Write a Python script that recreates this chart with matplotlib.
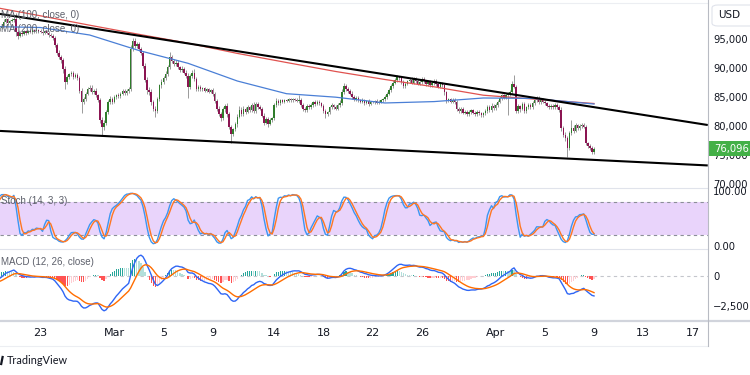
import numpy as np
import pandas as pd
import matplotlib
matplotlib.use("Agg")
import matplotlib.pyplot as plt
from matplotlib.lines import Line2D
from matplotlib.patches import Rectangle, FancyBboxPatch

# ------------------------------------------------------------------ data
# 4-hour candles, prices in thousands of USD; first candle = 2025-02-16 00:00
start_time = "2025-02-16 00:00"
first_open = 97.8
closes_by_day = [
    [97.6, 97.4, 97.2, 96.9, 96.6, 96.3],   # Feb 16
    [96.0, 96.5, 96.2, 95.7, 95.9, 95.6],   # Feb 17
    [95.4, 94.8, 94.0, 93.6, 95.0, 95.5],   # Feb 18
    [95.8, 96.0, 96.3, 96.6, 96.9, 97.3],   # Feb 19
    [98.0, 98.4, 97.8, 98.1, 98.3, 98.5],   # Feb 20
    [96.2, 95.6, 96.1, 95.9, 96.3, 96.0],   # Feb 21
    [96.4, 96.2, 96.5, 96.3, 96.6, 96.4],   # Feb 22
    [96.2, 96.0, 96.3, 96.1, 95.7, 95.5],   # Feb 23
    [95.2, 94.0, 92.6, 91.9, 91.3, 89.8],   # Feb 24
    [87.6, 88.4, 88.9, 89.1, 88.5, 88.8],   # Feb 25
    [88.2, 86.1, 84.2, 84.6, 85.6, 86.3],   # Feb 26
    [86.6, 85.9, 86.1, 85.3, 84.5, 81.0],   # Feb 27
    [79.8, 80.6, 82.4, 84.1, 84.6, 84.2],   # Feb 28
    [85.0, 85.3, 85.1, 85.6, 86.0, 85.7],   # Mar 1
    [86.0, 86.4, 93.3, 94.6, 93.8, 94.1],   # Mar 2
    [93.2, 92.6, 90.4, 88.0, 86.2, 85.8],   # Mar 3
    [84.1, 83.0, 82.6, 84.6, 87.0, 87.6],   # Mar 4
    [88.3, 89.0, 90.2, 91.9, 91.2, 90.7],   # Mar 5
    [90.9, 90.1, 89.6, 89.9, 89.2, 88.6],   # Mar 6
    [86.8, 88.6, 89.2, 88.1, 86.4, 86.8],   # Mar 7
    [86.3, 86.5, 86.1, 86.3, 85.9, 86.2],   # Mar 8
    [85.5, 84.3, 83.0, 82.1, 81.4, 82.9],   # Mar 9
    [83.4, 82.0, 79.8, 78.6, 79.4, 80.3],   # Mar 10
    [81.6, 82.8, 82.1, 83.0, 82.5, 83.2],   # Mar 11
    [82.8, 83.6, 82.6, 83.8, 83.3, 83.0],   # Mar 12
    [81.8, 80.6, 81.2, 80.4, 81.0, 81.3],   # Mar 13
    [83.6, 84.3, 84.0, 84.4, 84.2, 84.5],   # Mar 14
    [84.3, 84.6, 84.4, 84.7, 84.5, 84.3],   # Mar 15
    [84.5, 83.6, 83.0, 82.8, 83.5, 83.2],   # Mar 16
    [83.6, 84.1, 83.8, 84.2, 83.9, 83.5],   # Mar 17
    [82.6, 82.0, 82.4, 83.2, 83.6, 83.3],   # Mar 18
    [83.0, 83.6, 84.0, 85.9, 86.9, 86.4],   # Mar 19
    [86.0, 85.6, 85.0, 84.6, 84.9, 84.4],   # Mar 20
    [84.1, 84.5, 84.0, 84.3, 83.8, 84.1],   # Mar 21
    [84.1, 84.3, 84.0, 84.2, 84.4, 84.6],   # Mar 22
    [85.0, 85.6, 86.2, 86.9, 87.5, 87.9],   # Mar 23
    [88.4, 88.2, 87.6, 86.9, 87.3, 87.7],   # Mar 24
    [88.0, 87.5, 88.2, 87.8, 87.3, 87.6],   # Mar 25
    [88.1, 87.7, 87.2, 87.6, 87.0, 87.4],   # Mar 26
    [87.8, 87.2, 86.8, 87.3, 87.0, 85.8],   # Mar 27
    [84.4, 84.6, 84.2, 84.5, 84.1, 83.0],   # Mar 28
    [82.6, 82.9, 82.3, 82.5, 82.1, 82.4],   # Mar 29
    [82.7, 82.3, 82.0, 82.5, 82.2, 81.9],   # Mar 30
    [82.2, 82.6, 83.3, 82.7, 83.5, 83.1],   # Mar 31
    [83.6, 84.2, 84.8, 85.3, 84.9, 85.4],   # Apr 1
    [85.5, 85.9, 87.3, 86.8, 82.6, 83.4],   # Apr 2
    [83.0, 83.8, 82.6, 83.2, 83.6, 83.3],   # Apr 3
    [83.9, 84.4, 84.8, 84.1, 84.5, 84.2],   # Apr 4
    [83.9, 83.5, 83.2, 83.5, 83.3, 83.6],   # Apr 5
    [83.3, 82.8, 79.6, 78.5, 77.9, 76.2],   # Apr 6
    [78.8, 79.7, 79.2, 80.1, 79.6, 80.0],   # Apr 7
    [80.2, 79.9, 77.0, 76.6, 76.2, 75.6],   # Apr 8
    [76.096],                               # Apr 9
]
up_wick_by_day = [
    [.3, .2, .3, .2, .3, .2], [.3, .4, .2, .3, .2, .3], [.2, .3, .4, .3, .3, .2],
    [.2, .3, .2, .3, .2, .3], [.4, .3, .3, .2, .3, .3], [1.0, .4, .3, .3, .3, .2],
    [.2, .3, .2, .2, .3, .2], [.3, .2, .3, .2, .2, .3], [.3, .4, .3, .5, .3, .4],
    [.5, .4, .3, .3, .4, .3], [.3, .4, .5, .4, .3, .4], [.4, .5, .3, .4, .3, .4],
    [.6, .5, .4, .3, .5, .4], [.3, .3, .4, .2, .3, .3], [.3, .4, .6, .6, .5, .3],
    [.4, .5, .4, .5, .4, .5], [.5, .4, .4, .4, .3, .5], [.3, .4, .3, .9, .4, .3],
    [.4, .5, .3, .4, .3, .4], [.5, .4, .5, .6, .4, .3], [.2, .3, .2, .2, .3, .2],
    [.3, .4, .3, .4, .3, .3], [.4, .5, .4, .4, .3, .4], [.5, .6, .4, .5, .3, .4],
    [.3, .4, .5, .3, .4, .3], [.3, .4, .3, .4, .3, .3], [.4, .5, .3, .2, .3, .2],
    [.2, .3, .2, .2, .2, .3], [.8, .3, .3, .2, .3, .3], [.3, .2, .3, .3, .2, .3],
    [.3, .3, .2, .3, .3, .2], [.3, .3, .4, .5, .5, .3], [.3, .3, .4, .3, .3, .2],
    [.2, .3, .2, .2, .3, .2], [.2, .2, .3, .2, .2, .3], [.3, .3, .3, .3, .4, .4],
    [.4, .3, .3, .3, .3, .3], [.3, .4, .3, .3, .3, .3], [.4, .3, .3, .3, .3, .3],
    [.3, .3, .3, .3, .3, .3], [.3, .3, .3, .3, .3, .3], [.3, .3, .3, .3, .3, .3],
    [.3, .3, .3, .3, .3, .3], [.3, .3, .4, .3, .4, .3], [.3, .3, .3, .3, .3, .3],
    [.3, .3, .5, 1.5, .3, .4], [.3, .4, .3, .3, .3, .3], [.4, .3, .3, .3, .3, .3],
    [.3, .3, .3, .3, .3, .3], [.3, .3, .4, .4, .4, .4], [.4, 1.3, .4, .5, .3, .3],
    [.4, .3, .3, .3, .3, .3], [.3],
]
dn_wick_by_day = [
    [.2, .3, .2, .3, .2, .3], [.3, .2, .3, .2, .3, .2], [.3, .4, .3, .4, .2, .3],
    [.2, .3, .2, .2, .3, .2], [.3, .2, .3, .3, .2, .3], [.6, .6, .3, .3, .2, .3],
    [.2, .2, .3, .2, .2, .2], [.2, .3, .2, .3, .3, .2], [.3, .4, .4, .3, .5, .6],
    [1.3, .4, .3, .3, .4, .3], [.3, .4, 1.9, .4, .3, .3], [.3, .3, .4, .3, .4, .5],
    [1.4, .5, .4, .3, .3, .4], [.3, .3, .3, .3, .3, .3], [.3, .3, .3, .4, .4, .3],
    [.3, .4, .4, .4, .6, .4], [.5, .4, 1.1, .4, .3, .4], [.3, .3, .4, .3, .3, .4],
    [.3, .3, .3, .3, .3, .3], [1.9, .4, .4, .3, .4, .3], [.2, .2, .2, .3, .2, .2],
    [.3, .3, .4, .4, .5, .3], [.4, .4, .4, 1.6, .4, .3], [.4, .3, .4, .3, .4, .3],
    [.4, .3, .4, .3, .3, .3], [.3, .4, .3, .6, .3, .3], [.3, .3, .3, .3, .3, .3],
    [.2, .2, .3, .2, .2, .2], [.3, .3, .4, .3, .3, .3], [.3, .3, .3, .2, .3, .3],
    [.3, .7, .3, .3, .3, .3], [.3, .3, .3, .3, .3, .4], [.3, .3, .3, .3, .3, .3],
    [.2, .2, .3, .2, .3, .2], [.2, .3, .2, .2, .2, .2], [.3, .3, .3, .3, .3, .3],
    [.3, .3, .4, .4, .3, .3], [.3, .3, .3, .4, .3, .3], [.3, .3, .3, .3, .3, .3],
    [.3, .3, .3, .3, .3, .4], [.4, .3, .3, .3, .3, .4], [.3, .3, .3, .3, .4, .3],
    [.3, .3, .3, .3, .3, .4], [.3, .3, .3, .3, .3, .3], [.3, .3, .3, .3, .3, .3],
    [3.5, .3, .3, .3, .4, .3], [.5, .3, .4, .3, .3, .3], [.3, .3, .3, .3, .3, .3],
    [.3, .3, .3, .3, .3, .3], [.3, .3, .4, .4, .5, 1.6], [.4, .4, .4, .3, .3, .3],
    [.3, .3, .3, .4, .4, .4], [.4],
]

# moving averages (thousands USD)
ma_dates = ["2025-02-19", "2025-02-23", "2025-02-27", "2025-03-03", "2025-03-07",
            "2025-03-11", "2025-03-15", "2025-03-19", "2025-03-23", "2025-03-27",
            "2025-03-31", "2025-04-04", "2025-04-09"]
ma100 = [97.16, 96.98, 95.69, 93.02, 90.81, 87.76, 85.57, 84.97, 83.97, 84.21,
         84.83, 84.76, 83.79]
ma200 = [100.57, 99.0, 97.38, 95.81, 94.28, 92.52, 90.95, 89.4, 88.02, 86.76,
         85.31, 84.66, 83.88]

# trend lines (start / end time, price in thousands)
trend_dates = ["2025-02-19 17:00", "2025-04-18 06:00"]
upper_trend = [99.33, 80.17]
lower_trend = [79.15, 73.2]

# axis labels
price_ticks = [70, 75, 80, 85, 90, 95]
stoch_ticks = [0, 100]
macd_ticks = [-2.5, 0]
macd_labels = ["\u22122,500", "0"]
tick_dates = ["2025-02-23", "2025-03-01", "2025-03-05", "2025-03-09", "2025-03-14",
              "2025-03-18", "2025-03-22", "2025-03-26", "2025-04-01", "2025-04-05",
              "2025-04-09", "2025-04-13", "2025-04-17"]
tick_labels = ["23", "Mar", "5", "9", "14", "18", "22", "26", "Apr", "5", "9", "13", "17"]
view_range = ["2025-02-19 16:58", "2025-04-18 06:25"]

# ------------------------------------------------------------------ derived
t0 = pd.Timestamp(start_time)
step = pd.Timedelta("4h")
def to_x(d):
    return (pd.Timestamp(d) - t0) / step

c = np.array([v for day in closes_by_day for v in day])
uw = np.array([v for day in up_wick_by_day for v in day])
dw = np.array([v for day in dn_wick_by_day for v in day])
o = np.r_[first_open, c[:-1]]
hi = np.maximum(o, c) + uw
lo = np.minimum(o, c) - dw
x = np.arange(len(c))

def ema(v, n):
    a = 2.0 / (n + 1)
    out = np.empty_like(v)
    out[0] = v[0]
    for i in range(1, len(v)):
        out[i] = a * v[i] + (1 - a) * out[i - 1]
    return out

macd = ema(c, 12) - ema(c, 26)
signal = ema(macd, 9)
hist = macd - signal
hh = pd.Series(hi).rolling(14).max().values
ll = pd.Series(lo).rolling(14).min().values
raw = 100 * (c - ll) / (hh - ll)
k = pd.Series(raw).rolling(3).mean().values
d = pd.Series(k).rolling(3).mean().values

# ------------------------------------------------------------------ figure
W, H = 750, 375
fig = plt.figure(figsize=(7.5, 3.75), dpi=100)
fig.patch.set_facecolor("white")
TXT = "#131722"
AX_RIGHT = 708
YMAX, YMIN = 101.21, 69.31

def px_axes(y0, y1):
    return fig.add_axes([0, 1 - y1 / H, AX_RIGHT / W, (y1 - y0) / H])

ax = px_axes(3, 188)
ax_s = px_axes(188, 249)
ax_m = px_axes(249, 321)
xl = (to_x(view_range[0]), to_x(view_range[1]))
for a in (ax, ax_s, ax_m):
    a.set_xlim(*xl)
    for sp in a.spines.values():
        sp.set_visible(False)
    a.set_facecolor("none")
    a.yaxis.tick_right()
    a.tick_params(axis="y", length=0, pad=3.6, labelsize=7.2, labelcolor=TXT)
    a.tick_params(axis="x", length=0)
    a.set_xticks([])

# ---- main price panel
ax.set_ylim(YMIN, YMAX)
up = c >= o
ax.vlines(x, lo, hi, color="#9a9a9a", lw=0.7, zorder=2)
ax.bar(x, np.maximum(np.abs(c - o), 0.08), bottom=np.minimum(o, c), width=0.72,
       color=np.where(up, "#2f7d2b", "#8b1552"), lw=0, zorder=3)
mx = [to_x(v) for v in ma_dates]
ax.plot(mx, ma200, color="#e0524f", lw=0.9, zorder=4)
ax.plot(mx, ma100, color="#4a7fd6", lw=0.9, zorder=4)
tx = [to_x(v) for v in trend_dates]
ax.plot(tx, upper_trend, color="black", lw=1.5, zorder=5, solid_capstyle="butt")
ax.plot(tx, lower_trend, color="black", lw=1.5, zorder=5, solid_capstyle="butt")
ax.set_yticks(price_ticks)
ax.set_yticklabels([f"{v*1000:,.0f}" for v in price_ticks])

# ---- stochastic panel
ax_s.set_ylim(-5.45, 105.45)
ax_s.axhspan(20, 80, color="#e9d4fb", lw=0, zorder=0)
for lv in (20, 80):
    ax_s.axhline(lv, color="#8c8f98", lw=0.8, ls=(0, (3, 3)), zorder=1)
ax_s.plot(x, k, color="#3c96f2", lw=1.0, zorder=3)
ax_s.plot(x, d, color="#ff7722", lw=1.0, zorder=3)
ax_s.set_yticks(stoch_ticks)
ax_s.set_yticklabels([f"{v:.2f}" for v in stoch_ticks])

# ---- MACD panel
ax_m.set_ylim(-3.75, 2.25)
ax_m.axhline(0, color="#c4c6cc", lw=0.8, ls=(0, (3, 3)), zorder=1)
prev = np.r_[hist[0], hist[:-1]]
hcol = np.where(hist >= 0, np.where(hist >= prev, "#26a69a", "#b2dfdb"),
                np.where(hist < prev, "#ff5252", "#ffcdd2"))
ax_m.bar(x, hist, width=0.6, color=hcol, lw=0, zorder=2)
ax_m.plot(x, macd, color="#2f66f5", lw=1.0, zorder=3)
ax_m.plot(x, signal, color="#ff6d00", lw=1.0, zorder=3)
ax_m.set_yticks(macd_ticks)
ax_m.set_yticklabels(macd_labels)
ax_m.set_xticks([to_x(v) for v in tick_dates])
ax_m.set_xticklabels(tick_labels)
ax_m.tick_params(axis="x", length=0, pad=5.4, labelsize=8, labelcolor=TXT)

# ---- legends
LEG = dict(fontsize=7, color="#5d606b", va="center", ha="left", family="Liberation Sans")
fig.text(1 / W, 1 - 15 / H, "MA (100, close, 0)", **LEG)
fig.text(1 / W, 1 - 29 / H, "MA (200, close, 0)", **LEG)
fig.text(1 / W, 1 - 201 / H, "Stoch (14, 3, 3)", **LEG)
fig.text(1 / W, 1 - 262 / H, "MACD (12, 26, close)", **LEG)

# ---- frame lines
def hline(y, x0=0, x1=AX_RIGHT, color="#e0e3eb", lw=0.8):
    fig.add_artist(Line2D([x0 / W, x1 / W], [1 - y / H] * 2, color=color, lw=lw))
hline(3, color="#eceef2")
hline(188)
hline(249)
hline(321, x1=W, color="#d1d4dc", lw=1.6)
hline(346, x1=AX_RIGHT, color="#eceef2")
fig.add_artist(Line2D([AX_RIGHT / W] * 2, [1 - 346 / H, 1], color="#b8bbc3", lw=0.8))

# ---- USD box
fig.add_artist(FancyBboxPatch((712 / W, 1 - 26 / H), 50 / W, 21 / H,
                              boxstyle="round,pad=0,rounding_size=0.008",
                              transform=fig.transFigure, fc="white", ec="#e0e3eb", lw=0.8))
fig.text(718 / W, 1 - 15.5 / H, "USD", fontsize=7.5, color=TXT, va="center", ha="left")

# ---- last price label
last = c[-1]
ylab_px = 3 + (YMAX - last) / (YMAX - YMIN) * 185
fig.add_artist(Rectangle((709 / W, 1 - (ylab_px + 7.5) / H), 45 / W, 15 / H,
                         transform=fig.transFigure, fc="#43b047", ec="none"))
fig.text(714 / W, 1 - ylab_px / H, f"{last*1000:,.0f}", fontsize=7.2, color="white",
         va="center", ha="left")

# ---- branding
fig.add_artist(Line2D([1.2 / W, 2.6 / W], [1 - 364 / H, 1 - 357 / H], color=TXT, lw=1.6))
fig.text(7 / W, 1 - 361 / H, "TradingView", fontsize=7.8, color=TXT, va="center",
         ha="left", family="Lato")

fig.savefig("out.png", dpi=100, facecolor="white")
